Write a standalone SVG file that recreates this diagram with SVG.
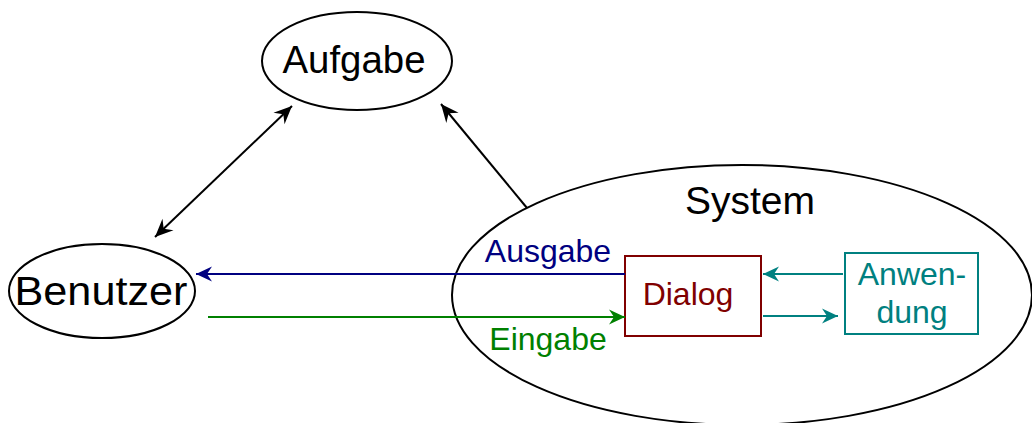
<svg xmlns="http://www.w3.org/2000/svg" width="1032" height="423" viewBox="0 0 1032 423">
<style>
.n{fill:#fff;stroke:#000;stroke-width:2}
.t{font-family:"Liberation Sans",Arial,sans-serif;text-anchor:middle}
.big{font-size:38px;fill:#000}
.mid{font-size:32px}
.c{fill:none;stroke-width:2}
</style>
<defs>
<marker id="ak" markerUnits="userSpaceOnUse" markerWidth="24" markerHeight="20" viewBox="-19 -10 21 20" refX="0" refY="0" orient="auto-start-reverse"><path d="M0,0 L-18,-8 L-12,0 L-18,8 Z" fill="#000"/></marker>
<marker id="ab" markerUnits="userSpaceOnUse" markerWidth="24" markerHeight="20" viewBox="-19 -10 21 20" refX="0" refY="0" orient="auto"><path d="M0,0 L-16,-7.5 L-11,0 L-16,7.5 Z" fill="#000080"/></marker>
<marker id="ag" markerUnits="userSpaceOnUse" markerWidth="24" markerHeight="20" viewBox="-19 -10 21 20" refX="0" refY="0" orient="auto"><path d="M0,0 L-16,-7.5 L-11,0 L-16,7.5 Z" fill="#008000"/></marker>
<marker id="at" markerUnits="userSpaceOnUse" markerWidth="24" markerHeight="20" viewBox="-19 -10 21 20" refX="0" refY="0" orient="auto"><path d="M0,0 L-16,-7.5 L-11,0 L-16,7.5 Z" fill="#008080"/></marker>
</defs>
<g id="system">
<ellipse class="n" cx="742" cy="295" rx="290" ry="130"/>
<text class="t big" x="750" y="214" style="font-size:39px">System</text>
</g>
<g id="aufgabe">
<ellipse class="n" cx="357" cy="61" rx="95" ry="49"/>
<text class="t big" x="354" y="73" textLength="143" lengthAdjust="spacingAndGlyphs">Aufgabe</text>
</g>
<g id="benutzer">
<ellipse class="n" cx="102" cy="291" rx="93" ry="47"/>
<text class="t big" x="101" y="305" style="font-size:40px" textLength="173" lengthAdjust="spacingAndGlyphs">Benutzer</text>
</g>
<g id="dialog">
<rect x="625" y="256" width="136" height="80" fill="#fff" stroke="#800000" stroke-width="2"/>
<text class="t mid" x="688" y="305" fill="#800000">Dialog</text>
</g>
<g id="anwendung">
<rect x="845" y="253" width="133" height="81" fill="#fff" stroke="#008080" stroke-width="2"/>
<text class="t mid" x="912" y="285" fill="#008080">Anwen-</text>
<text class="t mid" x="912" y="323" fill="#008080">dung</text>
</g>
<g id="connectors">
<line class="c" stroke="#000" x1="155" y1="237" x2="292" y2="106" marker-start="url(#ak)" marker-end="url(#ak)"/>
<line class="c" stroke="#000" x1="527" y1="208" x2="441" y2="104" marker-end="url(#ak)"/>
<line class="c" stroke="#000080" x1="625" y1="274" x2="196" y2="274" marker-end="url(#ab)"/>
<line class="c" stroke="#008000" x1="208" y1="317" x2="625" y2="317" marker-end="url(#ag)"/>
<line class="c" stroke="#008080" x1="843" y1="274" x2="763" y2="274" marker-end="url(#at)"/>
<line class="c" stroke="#008080" x1="763" y1="316" x2="838" y2="316" marker-end="url(#at)"/>
<text class="t mid" x="548" y="262" fill="#000080">Ausgabe</text>
<text class="t mid" x="548" y="350" fill="#008000">Eingabe</text>
</g>
</svg>
